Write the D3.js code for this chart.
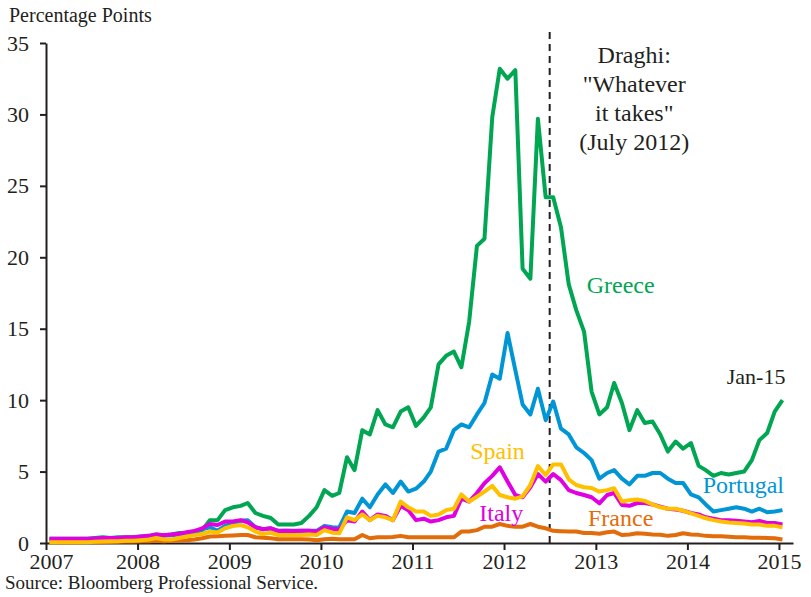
<!DOCTYPE html>
<html>
<head>
<meta charset="utf-8">
<script src="https://d3js.org/d3.v7.min.js"></script>
<style>
  body { margin: 0; background: #fff; }
  text { font-family: "Liberation Serif", "Times New Roman", serif; }
</style>
</head>
<body>
<div id="chart"></div>
<script>

// monthly spreads, jan 2007 .. jan 2015 (97 months)
var greece = [
  0.3,0.3,0.3,0.3,0.3,0.3,0.35,0.4,0.35,0.4,0.4,0.4,
  0.45,0.5,0.6,0.55,0.6,0.7,0.7,0.75,0.9,1.6,1.6,2.3,
  2.5,2.6,2.8,2.1,1.9,1.75,1.3,1.3,1.3,1.4,1.9,2.5,
  3.7,3.3,3.5,6.0,5.1,7.9,7.6,9.3,8.3,8.1,9.2,9.5,
  8.2,8.8,9.5,12.5,13.1,13.4,12.3,15.5,20.8,21.3,29.8,33.2,
  32.5,33.1,19.2,18.5,29.7,24.2,24.2,22.1,18.1,16.3,14.8,10.6,
  9.0,9.5,11.2,9.8,7.9,9.3,8.4,8.5,7.6,6.4,7.1,6.6,
  7.0,5.4,5.1,4.7,4.9,4.8,4.9,5.0,5.8,7.2,7.7,9.2,
  10.0];

var portugal = [
  0.25,0.25,0.25,0.25,0.25,0.25,0.3,0.3,0.3,0.3,0.35,0.35,
  0.4,0.45,0.55,0.5,0.55,0.6,0.7,0.8,0.95,1.1,0.86,1.2,
  1.4,1.55,1.6,1.1,0.96,1.03,0.85,0.85,0.85,0.85,0.85,0.85,
  1.2,1.1,1.07,2.2,2.1,3.1,2.5,3.4,4.1,3.5,4.3,3.6,
  3.8,4.3,5.0,6.4,6.6,7.9,8.3,8.1,9.0,9.8,11.8,11.5,
  14.7,12.1,9.7,9.0,10.8,8.6,9.9,8.0,7.6,6.7,6.3,5.8,
  4.5,4.9,5.1,4.5,4.1,4.7,4.7,4.9,4.9,4.5,4.2,4.2,
  3.4,3.2,2.7,2.2,2.3,2.4,2.5,2.4,2.2,2.4,2.15,2.2,
  2.3];

var spain = [
  0.05,0.05,0.05,0.05,0.05,0.05,0.08,0.1,0.12,0.12,0.15,0.15,
  0.2,0.25,0.35,0.25,0.25,0.35,0.45,0.55,0.63,0.8,0.73,1.03,
  1.19,1.26,1.1,0.8,0.63,0.72,0.56,0.56,0.56,0.56,0.6,0.56,
  0.9,0.72,0.68,1.8,1.6,2.0,1.6,1.9,1.8,1.6,2.9,2.5,
  2.2,2.2,1.9,2.0,2.3,2.4,3.4,2.9,3.24,3.6,4.0,3.36,
  3.2,3.1,3.26,4.06,5.39,4.76,5.5,5.5,4.46,4.06,3.9,3.85,
  3.6,3.7,3.83,2.9,3.0,3.05,2.95,2.7,2.5,2.4,2.4,2.26,
  2.08,1.9,1.73,1.6,1.5,1.43,1.4,1.36,1.3,1.3,1.2,1.2,
  1.1];

var italy = [
  0.3,0.3,0.3,0.3,0.3,0.3,0.32,0.35,0.35,0.35,0.4,0.4,
  0.45,0.5,0.6,0.55,0.6,0.65,0.75,0.85,1.03,1.33,1.26,1.5,
  1.5,1.6,1.45,1.1,0.96,1.03,0.84,0.85,0.84,0.85,0.85,0.8,
  1.1,1.0,0.95,1.6,1.5,2.2,1.6,2.0,1.9,1.6,2.6,2.3,
  1.6,1.7,1.5,1.6,1.8,1.9,3.1,2.9,3.5,4.18,4.7,5.3,
  4.3,3.36,3.2,3.9,4.83,4.3,4.83,4.4,3.7,3.5,3.36,3.2,
  2.78,3.36,3.5,2.66,2.6,2.8,2.8,2.7,2.55,2.4,2.35,2.26,
  2.1,2.0,1.8,1.7,1.6,1.6,1.55,1.5,1.45,1.55,1.4,1.4,
  1.3];

var france = [
  0.05,0.05,0.05,0.05,0.05,0.05,0.05,0.05,0.07,0.08,0.1,0.1,
  0.12,0.12,0.15,0.12,0.15,0.18,0.2,0.25,0.33,0.45,0.47,0.5,
  0.53,0.56,0.56,0.4,0.37,0.33,0.26,0.26,0.26,0.26,0.24,0.19,
  0.26,0.3,0.26,0.26,0.26,0.56,0.33,0.4,0.4,0.42,0.5,0.4,
  0.4,0.4,0.4,0.4,0.4,0.4,0.8,0.8,0.9,1.14,1.14,1.33,
  1.2,1.14,1.14,1.33,1.14,1.03,0.85,0.82,0.8,0.8,0.7,0.7,
  0.65,0.75,0.8,0.56,0.6,0.68,0.65,0.6,0.58,0.5,0.56,0.68,
  0.6,0.57,0.5,0.47,0.48,0.44,0.4,0.4,0.37,0.37,0.35,0.33,
  0.25];

var yTicks = [0, 5, 10, 15, 20, 25, 30, 35];
var xTickYears = [2007, 2008, 2009, 2010, 2011, 2012, 2013, 2014, 2015];

window.onload = function() {

  var width = 811, height = 597;
  var margin = {top: 43, right: 18, bottom: 54, left: 46};

  var svg = d3.select("#chart")
              .append("svg")
              .attr("width", width)
              .attr("height", height);

  // time axis runs a bit past jan 2015
  var x = d3.scaleTime()
      .domain([new Date(2007, 0, 1), new Date(2015, 1, 26)])
      .range([margin.left, width - margin.right]);

  var y = d3.scaleLinear()
      .domain([0, 35])
      .range([height - margin.bottom, margin.top]);

  // each value sits mid month
  function monthly(values) {
    return values.map(function(v, i) {
      return {date: new Date(2007, i, 15), value: v};
    });
  }

  // decimal year to date, for the annotations
  function yr(v) {
    var year = Math.floor(v);
    return new Date(year, 0, 1 + Math.round((v - year) * 365));
  }

  var series = [
    {name: "Greece", values: greece, color: "#00a651"},
    {name: "Portugal", values: portugal, color: "#0096d6"},
    {name: "France", values: france, color: "#e36c0a"},
    {name: "Italy", values: italy, color: "#e000e0"},
    {name: "Spain", values: spain, color: "#ffc000"}
  ];

  var line = d3.line()
      .x(function(d) { return x(d.date); })
      .y(function(d) { return y(d.value); });

  // axes
  var yAxis = d3.axisLeft(y)
      .tickValues(yTicks)
      .tickSize(6)
      .tickSizeOuter(0)
      .tickPadding(11);

  var xAxis = d3.axisBottom(x)
      .tickValues(xTickYears.map(function(d) { return new Date(d, 0, 1); }))
      .tickFormat(d3.timeFormat("%Y"))
      .tickSize(7)
      .tickSizeOuter(0)
      .tickPadding(3);

  var gy = svg.append("g")
      .attr("transform", "translate(" + margin.left + ",0)")
      .call(yAxis);

  var gx = svg.append("g")
      .attr("transform", "translate(0," + (height - margin.bottom) + ")")
      .call(xAxis);

  [gx, gy].forEach(function(g) {
    g.selectAll("path").style("stroke", "#231f20").style("stroke-width", 2);
    g.selectAll("line").style("stroke", "#231f20").style("stroke-width", 2);
    g.selectAll("text")
      .style("font-family", "'Liberation Serif', serif")
      .style("font-size", "22px")
      .style("fill", "#231f20");
  });

  // first year label sits a little right so it clears the 0
  gx.selectAll(".tick text")
    .filter(function(d, i) { return i === 0; })
    .attr("dx", 5);

  // draghi line, july 2012
  svg.append("line")
      .attr("x1", x(new Date(2012, 6, 1)))
      .attr("x2", x(new Date(2012, 6, 1)))
      .attr("y1", y(0))
      .attr("y2", y(35) - 11)
      .style("stroke", "#231f20")
      .style("stroke-width", 2)
      .style("stroke-dasharray", "7,5");

  // the lines
  svg.append("g")
    .selectAll("path")
      .data(series)
    .enter().append("path")
      .attr("d", function(d) { return line(monthly(d.values)); })
      .style("fill", "none")
      .style("stroke", function(d) { return d.color; })
      .style("stroke-width", 4)
      .style("stroke-linejoin", "round");

  // series labels
  var labels = [
    {text: "Greece", at: 2013.27, value: 17.5, color: "#00a651", size: 24},
    {text: "Jan-15", at: 2014.75, value: 11.1, color: "#231f20", size: 22},
    {text: "Portugal", at: 2014.61, value: 3.5, color: "#0096d6", size: 24},
    {text: "Spain", at: 2011.93, value: 5.88, color: "#ffc000", size: 24},
    {text: "Italy", at: 2011.97, value: 1.57, color: "#e000e0", size: 24},
    {text: "France", at: 2013.27, value: 1.19, color: "#e36c0a", size: 24}
  ];

  svg.append("g")
    .selectAll("text")
      .data(labels)
    .enter().append("text")
      .attr("x", function(d) { return x(yr(d.at)); })
      .attr("y", function(d) { return y(d.value); })
      .attr("text-anchor", "middle")
      .style("font-size", function(d) { return d.size + "px"; })
      .style("fill", function(d) { return d.color; })
      .text(function(d) { return d.text; });

  // draghi note
  var note = ["Draghi:", "\"Whatever", "it takes\"", "(July 2012)"];
  svg.append("text")
      .attr("text-anchor", "middle")
      .attr("x", x(yr(2013.42)))
      .attr("y", y(33.6))
      .style("font-size", "24px")
      .style("fill", "#231f20")
    .selectAll("tspan")
      .data(note)
    .enter().append("tspan")
      .attr("x", x(yr(2013.42)))
      .attr("dy", function(d, i) { return i === 0 ? 0 : 29; })
      .text(function(d) { return d; });

  // titles
  svg.append("text")
      .attr("x", 9)
      .attr("y", 22)
      .style("font-size", "20px")
      .style("fill", "#231f20")
      .text("Percentage Points");

  svg.append("text")
      .attr("x", 5)
      .attr("y", 589)
      .style("font-size", "19px")
      .style("fill", "#231f20")
      .text("Source: Bloomberg Professional Service.");
};
</script>
</body>
</html>
